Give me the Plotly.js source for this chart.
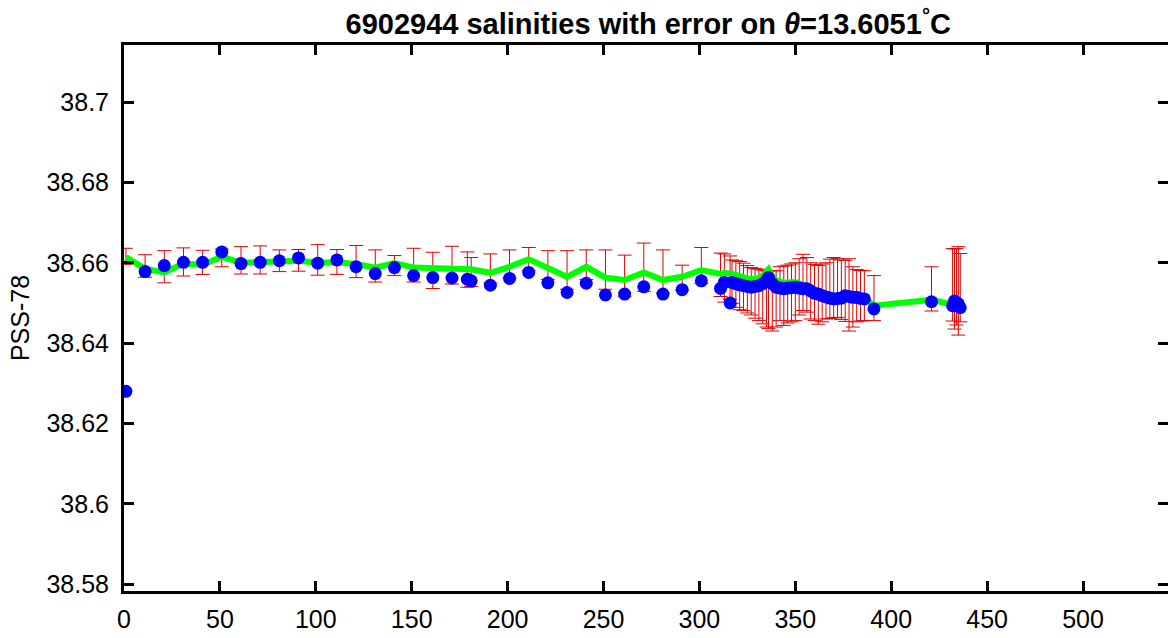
<!DOCTYPE html>
<html>
<head>
<meta charset="utf-8">
<script src="https://cdn.plot.ly/plotly-3.0.1.min.js"></script>
<style>html,body{margin:0;padding:0;background:#fff;}#plot{width:1168px;height:638px;}</style>
</head>
<body>
<div id="plot"></div>
<script>
const cycles = [1,11,21,31,41,51,61,71,81,91,101,111,121,131,141,151,161,171,179,181,191,201,211,221,231,241,251,261,271,281,291,301,
  311,313,316,317,319,321,323,325,327,329,331,333,335,336,338,340,342,344,346,348,350,352,354,356,358,360,362,364,366,368,370,372,374,376,378,380,382,384,386,
  391,421,432,433,434,435,436];

const floatSal = [38.6280,38.6578,38.6593,38.6601,38.6601,38.6627,38.6598,38.6601,38.6605,38.6612,38.6599,38.6607,38.6590,38.6573,38.6588,38.6568,38.6563,38.6562,38.6559,38.6555,38.6544,38.6561,38.6576,38.6550,38.6526,38.6549,38.6520,38.6522,38.6540,38.6522,38.6533,38.6555,
  38.6536,38.6551,38.6500,38.6551,38.6548,38.6545,38.6543,38.6541,38.6539,38.6541,38.6543,38.6548,38.6555,38.6563,38.6548,38.6539,38.6537,38.6535,38.6537,38.6538,38.6539,38.6537,38.6535,38.6535,38.6530,38.6524,38.6522,38.6518,38.6515,38.6512,38.6510,38.6511,38.6512,38.6518,38.6516,38.6514,38.6514,38.6511,38.6510,
  38.6485,38.6503,38.6493,38.6505,38.6501,38.6498,38.6488];

const calSal = [38.6614,38.6585,38.6576,38.6598,38.6595,38.6615,38.6600,38.6600,38.6603,38.6605,38.6600,38.6601,38.6597,38.6588,38.6599,38.6588,38.6587,38.6587,38.6585,38.6584,38.6575,38.6590,38.6609,38.6588,38.6565,38.6590,38.6563,38.6557,38.6576,38.6557,38.6565,38.6582,
  38.6572,38.6575,38.6570,38.6572,38.6570,38.6566,38.6564,38.6561,38.6559,38.6560,38.6562,38.6568,38.6576,38.6584,38.6566,38.6556,38.6553,38.6550,38.6551,38.6552,38.6552,38.6549,38.6546,38.6546,38.6540,38.6533,38.6530,38.6526,38.6522,38.6519,38.6517,38.6517,38.6518,38.6523,38.6521,38.6519,38.6518,38.6515,38.6513,
  38.6493,38.6508,38.6496,38.6508,38.6504,38.6500,38.6490];

const mappedSal = [38.6616,38.6592,38.6590,38.6602,38.6601,38.6612,38.6606,38.6607,38.6605,38.6606,38.6607,38.6602,38.6603,38.6592,38.6593,38.6594,38.6581,38.6594,38.6583,38.6577,38.6586,38.6597,38.6609,38.6594,38.6582,38.6595,38.6583,38.6567,38.6589,38.6578,38.6563,38.6593,
  38.6570,38.6562,38.6563,38.6553,38.6547,38.6543,38.6540,38.6534,38.6529,38.6524,38.6520,38.6515,38.6510,38.6508,38.6505,38.6510,38.6523,38.6518,38.6522,38.6525,38.6528,38.6540,38.6551,38.6545,38.6530,38.6526,38.6520,38.6525,38.6530,38.6535,38.6538,38.6537,38.6533,38.6530,38.6520,38.6515,38.6518,38.6518,38.6518,
  38.6512,38.6535,38.6545,38.6535,38.6540,38.6530,38.6538];

const mapErr = [0.0020,0.0028,0.0040,0.0035,0.0030,0.0022,0.0034,0.0035,0.0027,0.0027,0.0038,0.0031,0.0040,0.0040,0.0025,0.0042,0.0045,0.0047,0.0044,0.0036,0.0036,0.0035,0.0029,0.0036,0.0048,0.0037,0.0049,0.0052,0.0060,0.0054,0.0031,0.0045,
  0.0054,0.0060,0.0054,0.0054,0.0058,0.0060,0.0059,0.0059,0.0059,0.0062,0.0064,0.0067,0.0070,0.0072,0.0075,0.0070,0.0067,0.0074,0.0072,0.0072,0.0072,0.0070,0.0070,0.0068,0.0070,0.0070,0.0073,0.0072,0.0070,0.0074,0.0075,0.0073,0.0074,0.0076,0.0090,0.0075,0.0065,0.0063,0.0062,
  0.0056,0.0055,0.0090,0.0100,0.0095,0.0110,0.0085];

const xTicks = [0,50,100,150,200,250,300,350,400,450,500];
const yTicks = [38.58,38.6,38.62,38.64,38.66,38.68,38.7];
const yTickText = ['38.58','38.6','38.62','38.64','38.66','38.68','38.7'];
const titleText = '6902944 salinities with error on <i>θ</i>=13.6051<sup>°</sup>C';
const yTitle = 'PSS-78';

const FONT = '"Liberation Sans", Arial, sans-serif';

const traces = [
  {
    x: cycles, y: mappedSal, type: 'scatter', mode: 'markers',
    marker: {size: 1, color: 'rgba(255,0,0,0)'},
    error_y: {type: 'data', array: mapErr, visible: true, color: '#e00000', thickness: 1, width: 7},
    hoverinfo: 'skip', showlegend: false
  },
  {
    x: cycles, y: calSal, type: 'scatter', mode: 'lines',
    line: {color: '#00ff00', width: 6}, showlegend: false
  },
  {
    x: cycles, y: floatSal, type: 'scatter', mode: 'markers',
    marker: {color: '#0000ff', size: 13}, showlegend: false
  }
];

const axisCommon = {
  showline: true, linecolor: '#000', linewidth: 3, mirror: 'ticks',
  ticks: 'inside', ticklen: 10, tickwidth: 3, tickcolor: '#000',
  showgrid: false, zeroline: false,
  tickfont: {family: FONT, size: 25, color: '#000'}
};

const layout = {
  width: 1168, height: 638,
  margin: {l: 124, r: 0, t: 45, b: 47, pad: 0},
  paper_bgcolor: '#fff', plot_bgcolor: '#fff',
  title: {text: titleText, x: 0.555, xanchor: 'center', y: 0.963, yanchor: 'middle',
          font: {family: FONT, size: 29, color: '#000', weight: 'bold'}},
  xaxis: Object.assign({}, axisCommon, {range: [0, 544.3], tickvals: xTicks, ticktext: xTicks.map(String), ticklabelstandoff: 4}),
  yaxis: Object.assign({}, axisCommon, {range: [38.5783, 38.7142], tickvals: yTicks, ticktext: yTickText, ticklabelstandoff: 7,
          title: {text: yTitle, font: {family: FONT, size: 25, color: '#000'}, standoff: 10}}),
  showlegend: false
};

Plotly.newPlot('plot', traces, layout, {staticPlot: true, displayModeBar: false});
</script>
</body>
</html>
